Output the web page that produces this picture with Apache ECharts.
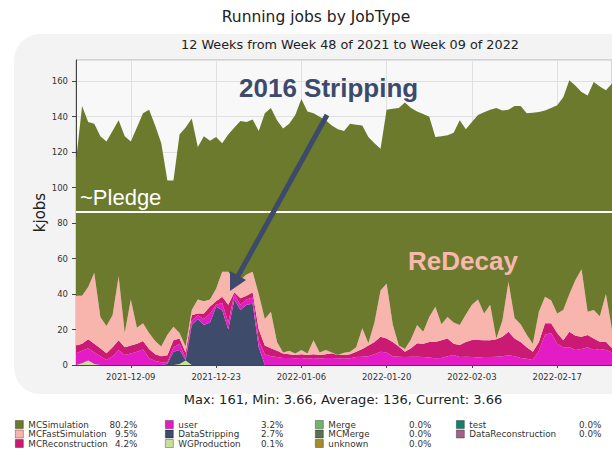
<!DOCTYPE html>
<html>
<head>
<meta charset="utf-8">
<script src="https://cdn.jsdelivr.net/npm/echarts@6/dist/echarts.min.js"></script>
<style>
  html, body { margin: 0; padding: 0; background: #fff; }
  #chart { width: 612px; height: 451px; }
</style>
</head>
<body>
<div id="chart"></div>
<script>
// daily running jobs (kjobs), from 2021-11-30
const startDay = Date.UTC(2021, 10, 30);
const tickLabels = ['2021-12-09', '2021-12-23', '2022-01-06', '2022-01-20', '2022-02-03', '2022-02-17'];

const wgProduction = [0, 1, 2.5, 0.5, 0, 0, 0, 0, 0, 0, 0, 0, 0, 0, 0, 0, 0, 0.5, 2.5, 0,
  0, 0, 0, 0, 0, 0, 0, 0, 0, 0, 0, 0, 0, 0, 0, 0, 0, 0, 0, 0,
  0, 0, 0, 0, 0, 0, 0, 0, 0, 0, 0, 0, 0, 0, 0, 0, 0, 0, 0, 0,
  0, 0, 0, 0, 0, 0, 0, 0, 0, 0, 0, 0, 0, 0, 0, 0, 0, 0, 0, 0,
  0, 0, 0, 0, 0, 0, 0, 0, 0];
const dataStripping = [0, 0, 0, 0, 0, 0, 0, 0, 0, 0, 0, 0, 0, 0, 0, 0.5, 7.5, 8, 0.3, 22.5,
  26, 22.5, 24, 32.9, 31, 20, 37, 31, 34, 34.5, 10, 0, 0, 0, 0, 0, 0, 0, 0, 0,
  0, 0, 0, 0, 0, 0, 0, 0, 0, 0, 0, 0, 0, 0, 0, 0, 0, 0, 0, 0,
  0, 0, 0, 0, 0, 0, 0, 0, 0, 0, 0, 0, 0, 0, 0, 0, 0, 0, 0, 0,
  0, 0, 0, 0, 0, 0, 0, 0, 0];
const user = [6.6, 7, 6.9, 6.5, 5, 2.8, 5, 8.5, 5.6, 6.5, 7.5, 8.8, 4, 2.2, 1.5, 1, 2.5, 3.5, 1.2, 2.5,
  2, 3.5, 5, 1.1, 4, 4, 3, 3, 3, 3.5, 4, 6, 5, 4.5, 4, 4, 3.8, 4, 3.5, 4,
  3.5, 4, 4, 3.8, 3.5, 3.8, 4.5, 4.7, 5, 6, 7.5, 7, 5, 4.7, 4.5, 4.7, 4.7, 4.5, 4.2, 3.8,
  4, 5, 5.6, 4.5, 4.7, 4.5, 4.2, 4.5, 4.5, 4.7, 5, 5.5, 5, 4, 3.5, 2.8, 8, 17, 18, 12,
  10, 10, 8.5, 9, 10, 8.5, 9, 8.5, 7];
const mcReconstruction = [4.4, 4, 5.1, 5, 4.5, 3.8, 5, 5.5, 4.4, 4.5, 4.5, 4.7, 5, 3.8, 3.5, 4, 4, 3, 3, 3,
  1, 3, 4, 2, 3.5, 10, 1, 3.6, 2, 3, 6, 5, 4.5, 3.5, 2.5, 2, 1.8, 2, 2.1, 2,
  2.1, 2, 2.6, 1.8, 2.1, 2.2, 3, 4.3, 6, 7, 8.4, 8, 8, 5.8, 3, 4.8, 7.5, 7.5, 8.8, 9.2,
  10, 10, 6.4, 6.8, 8.3, 9.6, 9.9, 9.5, 9.5, 9.8, 11, 13.3, 10, 9, 6.5, 4.7, 5, 6.5, 5.5, 6,
  4, 8.8, 8, 7, 6.9, 6.5, 4.1, 4.6, 2.4];
const mcFastSimulation = [28, 27, 29.5, 40, 17.5, 15.4, 18, 36, 8, 26, 9, 10, 9, 7.5, 5.5, 11.5, 7.6, 3, 3.5, 3,
  8, 7, 4, 7, 14.1, 18.6, 7, 10.4, 12, 11.6, 20, 15, 20.5, 5, 0.5, 2, 0.9, 2.5, 0.9, 8,
  1.4, 2.5, 0.4, 0, 1.3, 1.5, 2.5, 11.7, 1.2, 11, 26.1, 31, 10, 0.5, 1.5, 5, 10.3, 6.8, 14, 19.9,
  9, 12, 12, 11.2, 15.5, 19.9, 22.9, 15, 20, 0.5, 9, 28.1, 11.5, 10, 7, 4.5, 17, 15, 13, 11,
  17, 21.2, 31.5, 38, 13.1, 16, 14.4, 26.9, 10.6];
const mcSimulation = [76, 107, 93, 84, 102, 104, 104, 88, 111, 89, 113, 118.5, 126, 121.5, 114.5, 87, 82.4, 112, 123.5, 108,
  86, 93, 89.5, 85.6, 72.4, 77.4, 86, 89.6, 86, 85.8, 92, 116, 115, 125, 126.4, 128, 134.5, 141.5, 136.5, 128,
  133, 129.5, 128, 127.4, 125.1, 128.5, 125.5, 114.3, 116.4, 101, 80, 98, 121.5, 134, 139, 130.5, 120.5, 122.7, 113, 95.7,
  106, 102.6, 107, 115.5, 104.5, 103, 104, 113.5, 110, 130, 118.5, 97.1, 119.5, 123, 125, 130.3, 112.7, 105, 108.5, 117.5,
  120, 120.6, 109.5, 100, 122, 128.6, 129.5, 115, 138.7];
const pledgeLevel = 86.5;

// legend columns (name, share)
const legendCols = [
  [['MCSimulation', '80.2%'], ['MCFastSimulation', '9.5%'], ['MCReconstruction', '4.2%']],
  [['user', '3.2%'], ['DataStripping', '2.7%'], ['WGProduction', '0.1%']],
  [['Merge', '0.0%'], ['MCMerge', '0.0%'], ['unknown', '0.0%']],
  [['test', '0.0%'], ['DataReconstruction', '0.0%']]
];

const dates = mcSimulation.map((_, i) => new Date(startDay + i * 86400000).toISOString().slice(0, 10));

const layers = [
  ['WGProduction', wgProduction, '#c9df9b'],
  ['DataStripping', dataStripping, '#3e4b6b'],
  ['user', user, '#e31cc6'],
  ['MCReconstruction', mcReconstruction, '#cb1a73'],
  ['MCFastSimulation', mcFastSimulation, '#f8b5ae'],
  ['MCSimulation', mcSimulation, '#6b7a2c']
];
const emptyTypes = [
  ['Merge', '#72b26b'], ['MCMerge', '#587250'], ['unknown', '#a48b2b'],
  ['test', '#14806a'], ['DataReconstruction', '#a3608c']
];

const series = layers.map(([name, vals, color]) => ({
  name: name,
  type: 'line',
  stack: 'jobs',
  data: vals,
  color: color,
  symbol: 'none',
  lineStyle: {width: 0},
  areaStyle: {color: color, opacity: 1},
  itemStyle: {color: color},
  emphasis: {disabled: true}
}));
series[series.length - 1].markLine = {
  silent: true,
  symbol: ['none', 'none'],
  label: {show: false},
  lineStyle: {color: '#ffffff', width: 2, type: 'solid'},
  data: [{yAxis: pledgeLevel}]
};
emptyTypes.forEach(([name, color]) => {
  series.push({name: name, type: 'line', data: [], color: color, itemStyle: {color: color}, symbol: 'none'});
});

const shareOf = {};
legendCols.forEach(col => col.forEach(([n, p]) => { shareOf[n] = p; }));

const colLeft = [15, 165, 315, 456];
const nameWidth = [82, 80, 78, 106];
const pctWidth = [27, 25, 25, 26];
const legends = legendCols.map((col, c) => ({
  orient: 'vertical',
  left: colLeft[c],
  top: 420,
  height: 33,
  padding: 0,
  itemWidth: 8,
  itemHeight: 8,
  itemGap: 0.5,
  icon: 'rect',
  selectedMode: false,
  itemStyle: {borderColor: 'rgba(0,0,0,0.45)', borderWidth: 0.7},
  data: col.map(([n]) => n),
  formatter: n => '{n|' + n + '}{p|' + shareOf[n] + '}',
  textStyle: {
    rich: {
      n: {width: nameWidth[c], fontSize: 8.8, lineHeight: 10.3, fontFamily: 'DejaVu Sans', color: '#333'},
      p: {width: pctWidth[c], align: 'right', fontSize: 8.8, lineHeight: 10.3, fontFamily: 'DejaVu Sans', color: '#333'}
    }
  }
}));

const isTick = (i, v) => tickLabels.includes(v);

const chart = echarts.init(document.getElementById('chart'), null, {renderer: 'svg'});
chart.setOption({
  animation: false,
  backgroundColor: '#ffffff',
  grid: {left: 76, right: 0, top: 60, bottom: 86, show: true, backgroundColor: '#f8f8f8', borderColor: '#b5b5b5', borderWidth: 1},
  xAxis: {
    type: 'category',
    boundaryGap: false,
    data: dates,
    axisLine: {lineStyle: {color: '#444', width: 1}},
    axisTick: {interval: isTick, length: 3, lineStyle: {color: '#444'}},
    axisLabel: {interval: isTick, margin: 7, fontSize: 8.5, fontFamily: 'DejaVu Sans', color: '#333'},
    splitLine: {show: true, interval: isTick, lineStyle: {color: '#e0e0e0'}}
  },
  yAxis: {
    type: 'value',
    min: 0,
    max: 172,
    interval: 20,
    name: 'kjobs',
    nameLocation: 'middle',
    nameRotate: 90,
    nameGap: 29,
    nameMoveOverlap: false,
    nameTextStyle: {fontSize: 15, fontFamily: 'DejaVu Sans', color: '#222'},
    axisLine: {show: true, lineStyle: {color: '#444', width: 1}},
    axisTick: {show: true, length: 4, lineStyle: {color: '#444'}},
    axisLabel: {showMaxLabel: false, margin: 8, fontSize: 8.5, fontFamily: 'DejaVu Sans', color: '#333'},
    splitLine: {show: true, lineStyle: {color: '#e0e0e0'}}
  },
  legend: legends,
  series: series,
  graphic: [
    {type: 'rect', z: -100, silent: true, shape: {x: 14, y: 34, width: 640, height: 360, r: 26}, style: {fill: '#f3f3f3'}},
    {type: 'text', silent: true, style: {text: 'Running jobs by JobType', x: 316, y: 17, align: 'center', verticalAlign: 'middle', font: '15.5px "DejaVu Sans"', fill: '#222'}},
    {type: 'text', silent: true, style: {text: '12 Weeks from Week 48 of 2021 to Week 09 of 2022', x: 350, y: 44, align: 'center', verticalAlign: 'middle', font: '12.8px "DejaVu Sans"', fill: '#222'}},
    {type: 'text', silent: true, style: {text: 'Max: 161, Min: 3.66, Average: 136, Current: 3.66', x: 343, y: 399, align: 'center', verticalAlign: 'middle', font: '13px "DejaVu Sans"', fill: '#222'}},
    {type: 'text', silent: true, z: 50, style: {text: '2016 Stripping', x: 239, y: 88, align: 'left', verticalAlign: 'middle', font: 'bold 26px "Liberation Sans"', fill: '#3d4a6b'}},
    {type: 'text', silent: true, z: 50, style: {text: '~Pledge', x: 80, y: 197, align: 'left', verticalAlign: 'middle', font: '22px "Liberation Sans"', fill: '#ffffff'}},
    {type: 'text', silent: true, z: 50, style: {text: 'ReDecay', x: 408, y: 261, align: 'left', verticalAlign: 'middle', font: 'bold 26px "Liberation Sans"', fill: '#f8b8ae'}},
    {type: 'line', silent: true, z: 50, shape: {x1: 327, y1: 115, x2: 238, y2: 276}, style: {stroke: '#3d4a6b', lineWidth: 5}},
    {type: 'polygon', silent: true, z: 50, shape: {points: [[230, 291], [246, 280], [230, 271]]}, style: {fill: '#3d4a6b'}}
  ]
});
</script>
</body>
</html>
